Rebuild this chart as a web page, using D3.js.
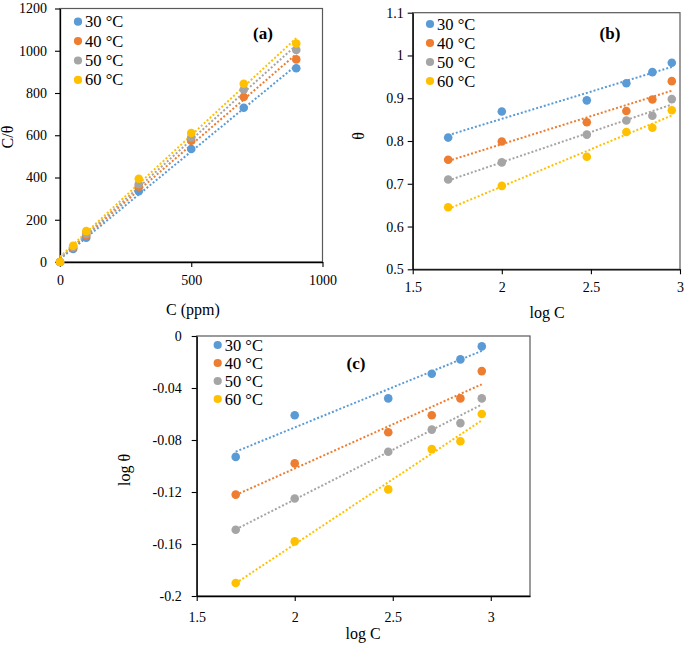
<!DOCTYPE html>
<html>
<head>
<meta charset="utf-8">
<script src="https://cdn.jsdelivr.net/npm/d3@7"></script>
<style>
  body { margin: 0; background: #fff; }
  svg, svg text { font-family: "Liberation Serif", "Times New Roman", Times, "DejaVu Serif", serif; }
</style>
</head>
<body>
<svg width="685" height="645"></svg>
<script>
const temps = ["30 °C", "40 °C", "50 °C", "60 °C"];
const colors = ["#5B9BD5", "#ED7D31", "#A5A5A5", "#FFC000"];
const FONT = "'Liberation Serif', 'Times New Roman', Times, 'DejaVu Serif', serif";

// panel (a): C/theta vs C
const concPpm = [0, 50, 100, 300, 500, 700, 900];
const cTheta30 = [0, 62, 115, 335, 535, 730, 917];
const cTheta40 = [0, 66, 125, 356, 574, 781, 959];
const cTheta50 = [0, 71, 133, 368, 590, 816, 1004];
const cTheta60 = [0, 77, 146, 394, 611, 844, 1034];

// panel (b): theta vs log C
const logC = [1.699, 2.0, 2.477, 2.699, 2.845, 2.954];
const theta30 = [0.808, 0.869, 0.895, 0.935, 0.961, 0.983];
const theta40 = [0.756, 0.799, 0.844, 0.870, 0.897, 0.940];
const theta50 = [0.710, 0.750, 0.815, 0.848, 0.859, 0.898];
const theta60 = [0.645, 0.695, 0.763, 0.821, 0.831, 0.872];

// panel (c): log theta vs log C
const logTheta30 = [-0.093, -0.061, -0.048, -0.029, -0.018, -0.008];
const logTheta40 = [-0.122, -0.098, -0.074, -0.061, -0.048, -0.027];
const logTheta50 = [-0.149, -0.125, -0.089, -0.072, -0.067, -0.048];
const logTheta60 = [-0.190, -0.158, -0.118, -0.087, -0.081, -0.060];

const ticksAx = [0, 500, 1000];
const ticksAy = [0, 200, 400, 600, 800, 1000, 1200];
const ticksBx = [1.5, 2, 2.5, 3];
const ticksBy = [0.5, 0.6, 0.7, 0.8, 0.9, 1, 1.1];
const ticksCx = [1.5, 2, 2.5, 3];
const ticksCy = [0, -0.04, -0.08, -0.12, -0.16, -0.2];

const svg = d3.select("svg");

// least squares line for the dotted trendlines
const fitLine = (xs, ys) => {
    const mx = d3.mean(xs), my = d3.mean(ys);
    let num = 0, den = 0;
    xs.forEach((x, i) => { num += (x - mx) * (ys[i] - my); den += (x - mx) * (x - mx); });
    const b = num / den;
    return { b: b, a: my - b * mx };
};

const drawPanel = (cfg) => {
    const x = d3.scaleLinear().domain(cfg.xDomain).range(cfg.xRange);
    const y = d3.scaleLinear().domain(cfg.yDomain).range(cfg.yRange);
    const g = svg.append("g").attr("font-family", FONT);

    // plot area border (top / right)
    g.append("rect")
        .attr("x", cfg.xRange[0]).attr("y", cfg.yRange[1])
        .attr("width", cfg.xRange[1] - cfg.xRange[0])
        .attr("height", cfg.yRange[0] - cfg.yRange[1])
        .attr("fill", "none").attr("stroke", "#595959").attr("stroke-width", 1.2);

    const xAxis = g.append("g")
        .attr("transform", "translate(0," + cfg.yRange[0] + ")")
        .call(d3.axisBottom(x).tickValues(cfg.xTicks).tickFormat(d => String(d))
            .tickSize(5).tickSizeOuter(0).tickPadding(cfg.xPad));
    const yAxis = g.append("g")
        .attr("transform", "translate(" + cfg.xRange[0] + ",0)")
        .call(d3.axisLeft(y).tickValues(cfg.yTicks).tickFormat(d => String(d))
            .tickSize(5).tickSizeOuter(0).tickPadding(cfg.yPad));
    [xAxis, yAxis].forEach(ax => {
        ax.attr("font-family", FONT).attr("font-size", 14);
        ax.select(".domain").attr("stroke", "#000").attr("stroke-width", 1.3);
        ax.selectAll(".tick line").attr("stroke", "#000").attr("stroke-width", 1.1);
        ax.selectAll("text").attr("fill", "#000");
    });

    // trendlines
    cfg.series.forEach((ys, i) => {
        const f = fitLine(cfg.xs, ys);
        const x0 = d3.min(cfg.xs), x1 = d3.max(cfg.xs);
        g.append("line")
            .attr("x1", x(x0)).attr("y1", y(f.a + f.b * x0))
            .attr("x2", x(x1)).attr("y2", y(f.a + f.b * x1))
            .attr("stroke", colors[i]).attr("stroke-width", 2)
            .attr("stroke-dasharray", "2,2");
    });

    // markers
    cfg.series.forEach((ys, i) => {
        g.append("g").selectAll("circle")
            .data(ys)
            .enter()
            .append("circle")
            .attr("cx", (d, j) => x(cfg.xs[j]))
            .attr("cy", d => y(d))
            .attr("r", 4.3)
            .attr("fill", colors[i]);
    });

    // legend
    temps.forEach((t, i) => {
        const ly = cfg.legY + i * cfg.legStep;
        g.append("circle").attr("cx", cfg.legX).attr("cy", ly).attr("r", 4.1).attr("fill", colors[i]);
        g.append("text").attr("x", cfg.legX + 7).attr("y", ly + 5.5)
            .attr("font-size", 16.5).text(t);
    });

    g.append("text").attr("x", cfg.tag[0]).attr("y", cfg.tag[1] + 6)
        .attr("text-anchor", "middle").attr("font-size", 17).attr("font-weight", "bold")
        .text(cfg.tagText);

    g.append("text").attr("x", cfg.xTitle[0]).attr("y", cfg.xTitle[1] + 5)
        .attr("text-anchor", "middle").attr("font-size", 16).text(cfg.xLabel);
    g.append("text")
        .attr("transform", "translate(" + (cfg.yTitle[0] + 5) + "," + cfg.yTitle[1] + ") rotate(-90)")
        .attr("text-anchor", "middle").attr("font-size", 16).text(cfg.yLabel);
};

drawPanel({
    xDomain: [0, 1000], xRange: [60, 322.5],
    yDomain: [0, 1200], yRange: [262, 8.5],
    xTicks: ticksAx, yTicks: ticksAy, xPad: 8, yPad: 8,
    xs: concPpm, series: [cTheta30, cTheta40, cTheta50, cTheta60],
    legX: 78, legY: 21.7, legStep: 19.4,
    tag: [263, 33], tagText: "(a)",
    xTitle: [193, 310], xLabel: "C (ppm)",
    yTitle: [7.5, 137], yLabel: "C/θ"
});

drawPanel({
    xDomain: [1.5, 3], xRange: [412.7, 680],
    yDomain: [0.5, 1.1], yRange: [269.3, 12.7],
    xTicks: ticksBx, yTicks: ticksBy, xPad: 8, yPad: 4,
    xs: logC, series: [theta30, theta40, theta50, theta60],
    legX: 430, legY: 24, legStep: 19,
    tag: [610, 33], tagText: "(b)",
    xTitle: [547, 313], xLabel: "log C",
    yTitle: [359, 136], yLabel: "θ"
});

drawPanel({
    xDomain: [1.5, 3.2], xRange: [196.7, 530],
    yDomain: [-0.2, 0], yRange: [596, 336],
    xTicks: ticksCx, yTicks: ticksCy, xPad: 11, yPad: 10,
    xs: logC, series: [logTheta30, logTheta40, logTheta50, logTheta60],
    legX: 217.7, legY: 345, legStep: 18,
    tag: [356, 363], tagText: "(c)",
    xTitle: [363, 634], xLabel: "log C",
    yTitle: [125, 470], yLabel: "log θ"
});
</script>
</body>
</html>
